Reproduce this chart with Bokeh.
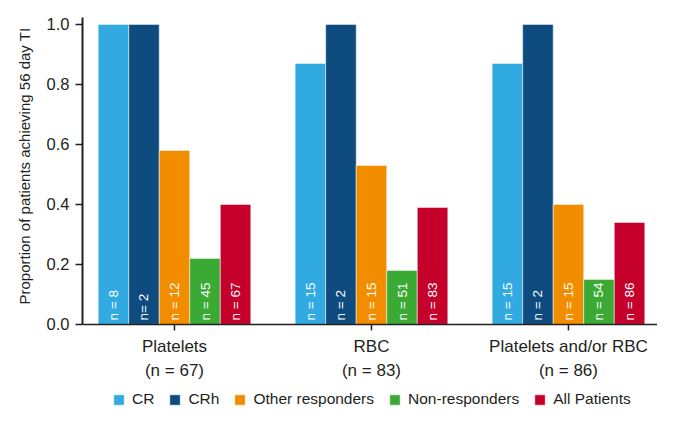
import numpy as np
from bokeh.plotting import figure
from bokeh.models import ColumnDataSource, Range1d, FixedTicker, Legend, LegendItem, Span, Title
from bokeh.core.properties import value
from bokeh.embed import file_html
from bokeh.resources import INLINE

# ---- data ----
groups = ["Platelets\n(n = 67)", "RBC\n(n = 83)", "Platelets and/or RBC\n(n = 86)"]
series = ["CR", "CRh", "Other responders", "Non-responders", "All Patients"]
colors = ["#31aae1", "#0e4b7f", "#f28d00", "#3aaa35", "#c4002b"]
cr = [1.0, 0.87, 0.87]
crh = [1.0, 1.0, 1.0]
other = [0.58, 0.53, 0.40]
non = [0.22, 0.18, 0.15]
allp = [0.40, 0.39, 0.34]
n_cr = ["n = 8", "n = 15", "n = 15"]
n_crh = ["n= 2", "n = 2", "n = 2"]
n_other = ["n = 12", "n = 15", "n = 15"]
n_non = ["n = 45", "n = 51", "n = 54"]
n_all = ["n = 67", "n = 83", "n = 86"]
y_ticks = [0.0, 0.2, 0.4, 0.6, 0.8, 1.0]
y_title = "Proportion of patients achieving 56 day TI"

values = [cr, crh, other, non, allp]
nlabels = [n_cr, n_crh, n_other, n_non, n_all]

FONT = "Liberation Sans"
TXT = "#231f20"

H = 408
TOP = 17
Y_TOP = 1.023
PX_PER_UNIT = 300.0
zero_px = TOP + Y_TOP * PX_PER_UNIT
y_bottom = -(H - zero_px) / PX_PER_UNIT

p = figure(width=657, height=H, output_backend="svg", toolbar_location=None,
           x_range=Range1d(-0.467, 2.452), y_range=Range1d(y_bottom, Y_TOP),
           min_border_left=82, min_border_right=0, min_border_top=TOP, min_border_bottom=0)
p.outline_line_color = None
p.xgrid.visible = False
p.ygrid.visible = False
p.xaxis.visible = False

bw = 0.155
idx = np.arange(len(groups))
items = []
for k, (name, vals, labs, col) in enumerate(zip(series, values, nlabels, colors)):
    src = ColumnDataSource(dict(x=idx + (k - 2) * bw, top=vals, lab=labs))
    r = p.vbar(x="x", top="top", width=bw, bottom=0, source=src, fill_color=col,
               line_color="white", line_alpha=0.5, line_width=1)
    p.text(x="x", y=0, text="lab", source=src, angle=np.pi / 2, text_align="left",
           text_baseline="middle", y_offset=-4, text_color="white",
           text_font=value(FONT), text_font_size="13.5px")
    items.append(LegendItem(label=name, renderers=[r]))

# x axis (drawn at y = 0)
p.add_layout(Span(location=0, dimension="width", line_color=TXT, line_width=1.5))
tick_len = 6 / PX_PER_UNIT
p.segment(x0=idx, y0=np.zeros(len(idx)), x1=idx, y1=np.full(len(idx), -tick_len),
          line_color=TXT, line_width=1.5)
gsrc = ColumnDataSource(dict(x=idx, y=np.zeros(len(idx)), t=groups))
p.text(x="x", y="y", text="t", source=gsrc, text_align="center", text_baseline="top",
       y_offset=13, text_color=TXT, text_font=value(FONT), text_font_size="17px",
       text_line_height=1.24)

# y axis
p.yaxis.bounds = (0, Y_TOP)
p.yaxis.ticker = FixedTicker(ticks=y_ticks)
p.yaxis.major_label_overrides = {t: f"{t:.1f}" for t in y_ticks}
p.yaxis.major_label_text_font = FONT
p.yaxis.major_label_text_font_size = "16.5px"
p.yaxis.major_label_text_color = TXT
p.yaxis.major_label_standoff = 6
p.yaxis.major_tick_in = 0
p.yaxis.major_tick_out = 7
p.yaxis.minor_tick_line_color = None
p.yaxis.axis_line_width = 2
p.yaxis.axis_line_color = TXT
p.yaxis.major_tick_line_color = TXT
p.yaxis.major_tick_line_width = 1.5

ytitle = Title(text=y_title, align="left", offset=104, text_font=FONT,
               text_font_size="15px", text_font_style="normal", text_color=TXT,
               standoff=22)
p.add_layout(ytitle, "left")

legend = Legend(items=items, orientation="horizontal", location=(30, 0),
                padding=0, margin=0, spacing=14, label_standoff=7,
                glyph_width=13, glyph_height=13, label_height=16,
                label_text_font=FONT, label_text_font_size="15.5px",
                label_text_color=TXT, border_line_color=None,
                background_fill_alpha=0)
p.add_layout(legend, "center")

open("out.html", "w").write(file_html(p, INLINE))
